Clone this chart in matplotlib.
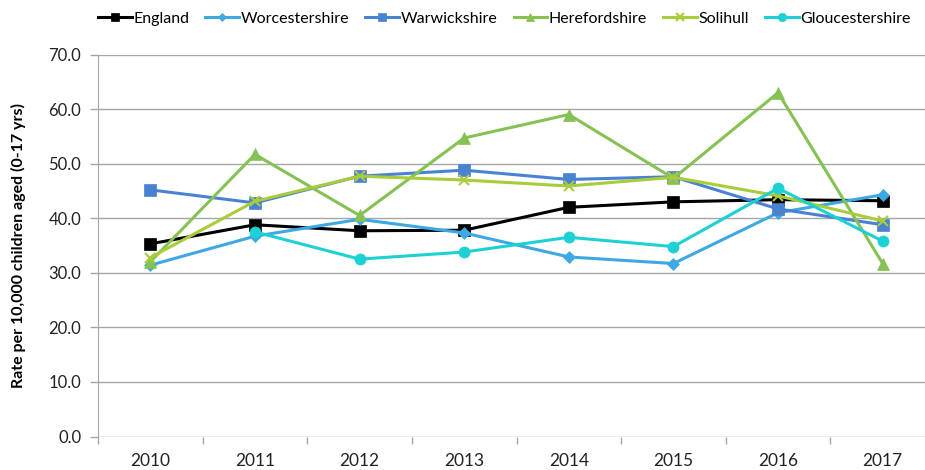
import numpy as np
import matplotlib
matplotlib.use('Agg')
import matplotlib.pyplot as plt

plt.rcParams['font.family'] = ['Lato', 'DejaVu Sans']

years = ['2010', '2011', '2012', '2013', '2014', '2015', '2016', '2017']
england = [35.3, 38.8, 37.7, 37.8, 42.0, 43.0, 43.4, 43.2]
worcestershire = [31.4, 36.7, 39.8, 37.3, 32.9, 31.7, 41.0, 44.3]
warwickshire = [45.2, 42.8, 47.7, 48.8, 47.1, 47.6, 41.7, 38.8]
herefordshire = [32.0, 51.7, 40.5, 54.7, 59.0, 47.3, 63.0, 31.7]
solihull = [32.8, 43.1, 47.7, 47.0, 45.9, 47.5, 44.1, 39.5]
gloucestershire = [np.nan, 37.5, 32.5, 33.8, 36.5, 34.8, 45.5, 35.8]

series = [
    ('England', england, '#000000', 's', 8),
    ('Worcestershire', worcestershire, '#3DA8E2', 'D', 6),
    ('Warwickshire', warwickshire, '#4A82D2', 's', 8),
    ('Herefordshire', herefordshire, '#85C153', '^', 8),
    ('Solihull', solihull, '#A8CC3A', 'x', 7),
    ('Gloucestershire', gloucestershire, '#1DD0D4', 'o', 8),
]

fig = plt.figure(figsize=(9.25, 4.7), dpi=100)
ax = fig.add_axes([98 / 925, 33.5 / 470, 837 / 925, 382 / 470])

x = np.arange(len(years))
for name, vals, col, mk, ms in series:
    ax.plot(x, vals, color=col, lw=2.2, marker=mk, ms=ms,
            mew=1.5 if mk == 'x' else 0.5, mec=col, label=name)

ax.set_xlim(-0.5, len(years) - 0.5)
ax.set_ylim(0, 70)
ax.set_yticks(np.arange(0, 71, 10))
ax.set_yticklabels([f'{v:.1f}' for v in np.arange(0, 71, 10)])
ax.set_xticks(x)
ax.set_xticklabels(years)
ax.set_xticks(np.arange(-0.5, len(years), 1), minor=True)
ax.tick_params(axis='x', which='major', length=0, pad=12, labelsize=12.5, colors='#222222')
ax.tick_params(axis='x', which='minor', length=5, color='#A6A6A6', width=1)
ax.tick_params(axis='y', length=6, color='#A6A6A6', width=1, pad=6,
               labelsize=12, labelcolor='#222222')
ax.grid(axis='y', color='#A6A6A6', lw=1)
ax.set_axisbelow(True)
for s in ['top', 'right']:
    ax.spines[s].set_visible(False)
ax.spines['bottom'].set_visible(False)
ax.spines['left'].set_color('#A6A6A6')
ax.set_ylabel('Rate per 10,000 children aged (0-17 yrs)', fontsize=11.5,
              fontweight='bold')
ax.yaxis.set_label_coords(-0.086, 0.5)

fig.legend(loc='center left', bbox_to_anchor=(98 / 925, 1 - 19 / 470), ncol=6,
           frameon=False, fontsize=11.5, handlelength=2.1, handletextpad=0.12,
           columnspacing=1.0, borderaxespad=0, borderpad=0, markerscale=0.75)

fig.savefig('out.png', dpi=100)
